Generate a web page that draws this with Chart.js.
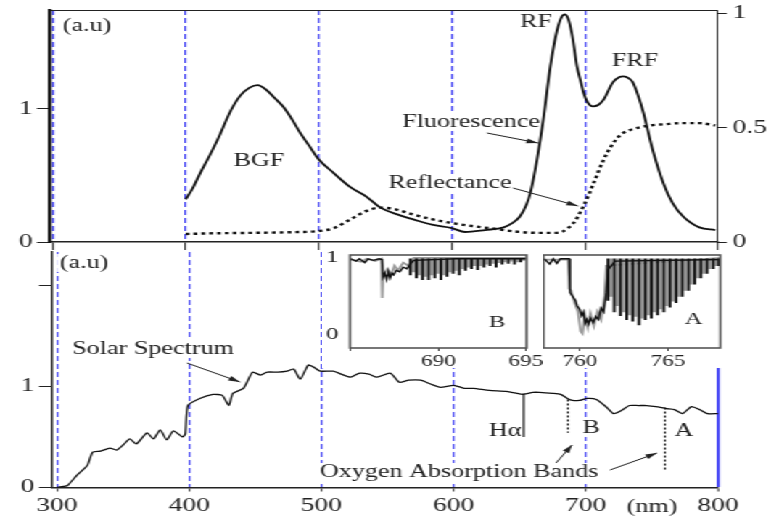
<!DOCTYPE html>
<html>
<head>
<meta charset="utf-8">
<script src="https://cdn.jsdelivr.net/npm/chart.js@4.4.1/dist/chart.umd.min.js"></script>
<style>
  html, body { margin: 0; padding: 0; background: #fff; overflow: hidden; }
  /* the figure is drawn narrow and stretched sideways, like the scanned original */
  #stage { position: absolute; left: 0; top: 0; width: 537px; height: 518px; transform: scaleX(1.450652); transform-origin: 0 0; }
  .box { position: absolute; }
</style>
</head>
<body>
<div id="stage">
  <div class="box" style="left:0;top:0"><canvas id="topChart" width="537" height="250"></canvas></div>
  <div class="box" style="left:0;top:250px"><canvas id="solarChart" width="537" height="268"></canvas></div>
  <div class="box" style="left:221.97px;top:250px"><canvas id="insetB" width="152" height="118"></canvas></div>
  <div class="box" style="left:373.63px;top:250px"><canvas id="insetA" width="126" height="118"></canvas></div>
</div>
<script>
(function () {
  "use strict";

  // Top panel: fluorescence (left axis) and reflectance (right axis)
  const fluoNm = [400, 405, 411, 418, 424, 434, 441, 448, 454, 461, 467, 473, 480, 486, 493, 500, 511, 524, 536, 546,
    561, 571, 585, 600, 610, 625, 639, 645, 651, 656, 659, 664, 669, 674, 679, 683, 685, 688, 691, 694,
    697, 699, 702, 706, 710, 714, 721, 726, 729, 733, 736, 740, 744, 751, 759, 766, 774, 786, 798];
  const fluoVal = [0.32, 0.40, 0.52, 0.65, 0.77, 0.99, 1.10, 1.16, 1.18, 1.14, 1.08, 1.02, 0.92, 0.82, 0.72, 0.62, 0.52, 0.41, 0.34, 0.26,
    0.20, 0.17, 0.13, 0.105, 0.075, 0.09, 0.11, 0.14, 0.19, 0.28, 0.37, 0.62, 0.94, 1.32, 1.59, 1.70, 1.71, 1.66, 1.52, 1.32,
    1.20, 1.12, 1.05, 1.02, 1.03, 1.07, 1.20, 1.24, 1.245, 1.23, 1.20, 1.10, 0.97, 0.69, 0.44, 0.29, 0.19, 0.11, 0.09];
  const reflNm = [400, 420, 450, 480, 500, 511, 524, 536, 546, 556, 571, 585, 600, 615, 629, 651, 665, 676, 683, 687,
    691, 694, 700, 706, 714, 721, 727, 734, 749, 760, 772, 786, 798];
  const reflVal = [0.035, 0.038, 0.040, 0.043, 0.048, 0.06, 0.10, 0.136, 0.15, 0.145, 0.12, 0.10, 0.083, 0.07, 0.06, 0.044, 0.04, 0.04, 0.045, 0.06,
    0.08, 0.105, 0.17, 0.25, 0.36, 0.43, 0.47, 0.49, 0.51, 0.515, 0.52, 0.52, 0.51];

  // Bottom panel: solar spectrum
  const solarNm = [300, 305, 308, 315, 323, 327, 333, 340, 345, 350, 355, 360, 368, 373, 378, 383, 388, 395, 397, 399,
    408, 418, 425, 430, 433, 441, 448, 454, 459, 467, 474, 479, 484, 490, 494, 499, 509, 515, 522, 529,
    536, 542, 552, 559, 566, 575, 583, 590, 600, 608, 615, 627, 640, 648, 652, 660, 665, 675, 681, 686,
    690, 695, 701, 708, 716, 721, 727, 733, 740, 746, 753, 761, 767, 773, 780, 786, 792, 800];
  const solarVal = [0.0, 0.01, 0.02, 0.12, 0.22, 0.35, 0.36, 0.39, 0.37, 0.42, 0.48, 0.43, 0.54, 0.48, 0.57, 0.47, 0.56, 0.50, 0.53, 0.81,
    0.88, 0.92, 0.91, 0.81, 0.93, 0.98, 1.14, 1.11, 1.14, 1.14, 1.15, 1.17, 1.07, 1.21, 1.19, 1.15, 1.15, 1.12, 1.09, 1.13,
    1.12, 1.09, 1.13, 1.04, 1.06, 1.06, 1.02, 0.99, 1.01, 0.98, 0.98, 0.96, 0.95, 0.93, 0.92, 0.94, 0.94, 0.93, 0.92, 0.88,
    0.86, 0.86, 0.88, 0.87, 0.79, 0.73, 0.76, 0.81, 0.81, 0.81, 0.80, 0.78, 0.77, 0.73, 0.80, 0.77, 0.73, 0.73];
  // H-alpha, O2-B, O2-A markers
  const markerNm = [653, 686.5, 759.9];
  const markerTop = [0.93, 0.87, 0.79];
  const markerBottom = [0.50, 0.54, 0.17];

  // Inset B (O2-B band), normalised: band head as lines, rotational lines as bars
  const bHeadNm = [685, 685.3, 685.5, 685.8, 686, 686.3, 686.6, 686.8, 686.85, 686.95, 687.05, 687.15, 687.25, 687.35,
    687.45, 687.6, 687.8, 688, 688.2, 688.4, 688.6, 691, 695];
  const bHeadBlack = [0.99, 0.96, 0.99, 0.94, 0.99, 0.97, 0.99, 0.98, 0.75, 0.80, 0.72, 0.82, 0.74, 0.80,
    0.78, 0.84, 0.82, 0.88, 0.86, 0.92, 0.97, 0.99, 0.99];
  const bHeadGrayNm = [685, 685.6, 685.9, 686.4, 686.75, 686.8, 686.85, 687.1, 687.3, 687.5, 687.7, 688, 688.3, 688.6, 695];
  const bHeadGray = [0.98, 0.95, 0.99, 0.96, 0.99, 0.48, 0.78, 0.86, 0.78, 0.90, 0.84, 0.94, 0.90, 1.00, 1.00];
  const bLineNm = [688.4, 688.75, 689.1, 689.45, 689.8, 690.15, 690.5, 690.85, 691.2, 691.55, 691.9, 692.25,
    692.6, 692.95, 693.3, 693.65, 694.0, 694.35, 694.7];
  const bLineBlack = [0.78, 0.74, 0.72, 0.72, 0.74, 0.72, 0.76, 0.80, 0.78, 0.84, 0.86, 0.85,
    0.88, 0.90, 0.88, 0.92, 0.93, 0.92, 0.95];
  const bLineGray = [0.82, 0.78, 0.76, 0.78, 0.80, 0.78, 0.82, 0.84, 0.86, 0.88, 0.90, 0.90,
    0.92, 0.93, 0.94, 0.95, 0.96, 0.95, 0.97];

  // Inset A (O2-A band)
  const aHeadNm = [758, 758.3, 758.5, 758.7, 758.9, 759.4, 759.45, 759.6, 759.75, 759.85, 760, 760.1, 760.2, 760.3,
    760.4, 760.5, 760.6, 760.75, 760.9, 761.05, 761.2, 761.35, 761.5, 761.6, 762, 768];
  const aHeadBlack = [0.99, 0.92, 0.99, 0.93, 0.99, 0.99, 0.55, 0.50, 0.45, 0.38, 0.33, 0.25, 0.30, 0.15,
    0.20, 0.14, 0.22, 0.16, 0.24, 0.20, 0.35, 0.30, 0.55, 0.85, 0.96, 0.98];
  const aHeadGrayNm = [758, 759.35, 759.4, 759.5, 759.7, 759.9, 760.05, 760.15, 760.3, 760.45, 760.6, 760.8, 761,
    761.2, 761.4, 761.5, 768];
  const aHeadGray = [0.98, 0.98, 0.60, 0.58, 0.42, 0.30, 0.05, 0.02, 0.25, 0.10, 0.28, 0.12, 0.30,
    0.20, 0.50, 0.90, 1.00];
  const aLineNm = [761.6, 761.95, 762.3, 762.65, 763.0, 763.35, 763.7, 764.05, 764.4, 764.75, 765.1, 765.45,
    765.8, 766.15, 766.5, 766.85, 767.2, 767.55, 767.85];
  const aLineBlack = [0.45, 0.30, 0.25, 0.20, 0.18, 0.13, 0.20, 0.22, 0.26, 0.30, 0.36, 0.42,
    0.50, 0.58, 0.66, 0.74, 0.80, 0.86, 0.90];
  const aLineGray = [0.50, 0.38, 0.30, 0.26, 0.24, 0.22, 0.26, 0.30, 0.34, 0.38, 0.44, 0.50,
    0.58, 0.66, 0.74, 0.80, 0.86, 0.90, 0.94];
  const bandLineTop = 0.99;

  const nmTicks = [300, 400, 500, 600, 700, 800];
  const topLeftTicks = [0, 1];
  const topRightTicks = [0, 0.5, 1];
  const solarTicks = [0, 1, 2];
  const insetBTicks = [685, 690, 695];
  const insetATicks = [760, 765];

  const S = 779 / 537; // horizontal stretch of the stage
  const FONT = "'Liberation Serif', 'Times New Roman', serif";
  const INK = "#222";
  const BLUE = "#4b4bf5";

  Chart.defaults.font.family = FONT;
  Chart.defaults.color = INK;

  const pts = (xs, ys, shift) => xs.map((x, i) => ({ x: x + (shift || 0), y: ys[i] }));
  const bars = (xs, lows, shift) => xs.map((x, i) => ({ x: x + (shift || 0), y: [lows[i], bandLineTop] }));
  const setTicks = (list) => (s) => { s.ticks = list.map((v) => ({ value: v })); };
  const fixW = (w) => (s) => { s.width = w; s.paddingTop = 0; s.paddingBottom = 0; };
  const fixH = (h) => (s) => { s.height = h; s.paddingLeft = 0; s.paddingRight = 0; };

  const whiteBg = {
    id: "whiteBg",
    beforeDraw(chart) {
      const { ctx, width, height } = chart;
      ctx.save();
      ctx.fillStyle = "#fff";
      ctx.fillRect(0, 0, width, height);
      ctx.restore();
    },
  };

  const frame = {
    id: "frame",
    afterDraw(chart) {
      const { ctx, chartArea: a } = chart;
      ctx.save();
      ctx.strokeStyle = "#555";
      ctx.lineWidth = 1.6;
      ctx.strokeRect(a.left, a.top, a.right - a.left, a.bottom - a.top);
      ctx.restore();
    },
  };

  // texts and arrows, positions given in page pixels
  function annotations(id, texts, arrows, offsetX, offsetY) {
    return {
      id,
      beforeDatasetsDraw(chart) {
        const ctx = chart.ctx;
        ctx.save();
        ctx.textAlign = "center";
        ctx.textBaseline = "middle";
        texts.forEach((t) => {
          const size = t.size || 18;
          ctx.font = `${size}px ${FONT}`;
          const x = (t.x - offsetX) / S;
          const y = t.y - offsetY;
          const w = ctx.measureText(t.text).width;
          ctx.fillStyle = "#fff";
          ctx.fillRect(x - w / 2 - 2, y - size / 2, w + 4, size);
          ctx.fillStyle = INK;
          ctx.fillText(t.text, x, y);
        });
        ctx.restore();
      },
      afterDatasetsDraw(chart) {
        const ctx = chart.ctx;
        ctx.save();
        ctx.strokeStyle = INK;
        ctx.fillStyle = INK;
        ctx.lineWidth = 1;
        arrows.forEach((a) => {
          const x1 = (a[0] - offsetX) / S, y1 = a[1] - offsetY;
          const x2 = (a[2] - offsetX) / S, y2 = a[3] - offsetY;
          const ang = Math.atan2(y2 - y1, x2 - x1);
          ctx.beginPath();
          ctx.moveTo(x1, y1);
          ctx.lineTo(x2, y2);
          ctx.stroke();
          ctx.beginPath();
          ctx.moveTo(x2, y2);
          ctx.lineTo(x2 - 8 * Math.cos(ang) + 2.5 * Math.sin(ang), y2 - 8 * Math.sin(ang) - 2.5 * Math.cos(ang));
          ctx.lineTo(x2 - 8 * Math.cos(ang) - 2.5 * Math.sin(ang), y2 - 8 * Math.sin(ang) + 2.5 * Math.cos(ang));
          ctx.closePath();
          ctx.fill();
        });
        ctx.restore();
      },
    };
  }

  const topTexts = [
    { text: "(a.u)", x: 87, y: 26 },
    { text: "BGF", x: 259, y: 161 },
    { text: "RF", x: 536, y: 22 },
    { text: "FRF", x: 635, y: 61 },
    { text: "Fluorescence", x: 471, y: 122 },
    { text: "Reflectance", x: 450, y: 183 },
  ];
  const topArrows = [
    [487, 133, 538, 143],
    [513, 188, 578, 206],
  ];
  const solarTexts = [
    { text: "(a.u)", x: 84, y: 263 },
    { text: "Solar Spectrum", x: 153, y: 349 },
    { text: "H\u03b1", x: 505, y: 431 },
    { text: "B", x: 591, y: 428 },
    { text: "A", x: 684, y: 431 },
    { text: "Oxygen Absorption Bands", x: 459, y: 472 },
    { text: "(nm)", x: 652, y: 507 },
  ];
  const solarArrows = [
    [187, 363, 240, 382],
    [556, 463, 572, 445],
    [610, 470, 657, 453],
  ];

  const base = {
    responsive: false,
    animation: false,
    events: [],
    plugins: { legend: { display: false }, tooltip: { enabled: false } },
  };
  const tickFont = { size: 19 };

  // ---------- top panel
  new Chart(document.getElementById("topChart"), {
    type: "line",
    data: {
      datasets: [
        {
          label: "Fluorescence",
          data: pts(fluoNm, fluoVal),
          yAxisID: "y",
          borderColor: "#111",
          borderWidth: 1.8,
          pointRadius: 0,
          cubicInterpolationMode: "monotone",
        },
        {
          label: "Reflectance",
          data: pts(reflNm, reflVal),
          yAxisID: "yR",
          borderColor: "#111",
          borderWidth: 2.4,
          borderDash: [2.6, 2.8],
          pointRadius: 0,
          cubicInterpolationMode: "monotone",
        },
      ],
    },
    options: {
      ...base,
      layout: { padding: { top: 10, left: 0, right: 0, bottom: 0 } },
      scales: {
        x: {
          type: "linear",
          min: 298,
          max: 800,
          afterBuildTicks: setTicks(nmTicks),
          afterFit: fixH(8),
          ticks: { display: false },
          grid: {
            color: (c) => (c.tick && c.tick.value === 800 ? "rgba(0,0,0,0)" : BLUE),
            lineWidth: 1.3,
            drawTicks: true,
            tickLength: 10,
            tickColor: INK,
            tickWidth: 1,
            tickBorderDash: [],
          },
          border: { color: INK, width: 1.5, dash: [5, 3] },
        },
        xTop: {
          type: "linear",
          position: "top",
          afterFit: fixH(0),
          ticks: { display: false },
          grid: { display: false },
          border: { display: true, color: INK, width: 1 },
        },
        y: {
          min: 0,
          max: 1.744,
          afterBuildTicks: setTicks(topLeftTicks),
          afterFit: fixW(50 / S),
          ticks: { font: tickFont, padding: 3 },
          grid: { drawOnChartArea: false, tickLength: 9, tickColor: INK, tickWidth: 1 },
          border: { color: "#111", width: 2.5 },
        },
        yR: {
          position: "right",
          min: 0,
          max: 1.015,
          afterBuildTicks: setTicks(topRightTicks),
          afterFit: fixW(537 - 718 / S),
          ticks: { font: tickFont, padding: 4, callback: (v) => String(v) },
          grid: { drawOnChartArea: false, tickLength: 6, tickColor: INK, tickWidth: 1 },
          border: { color: INK, width: 1 },
        },
      },
    },
    plugins: [whiteBg, annotations("topNotes", topTexts, topArrows, 0, 0)],
  });

  // ---------- bottom panel
  const markerSets = markerNm.map((nm, i) => ({
    label: ["H-alpha", "O2-B", "O2-A"][i],
    data: [{ x: nm, y: markerTop[i] }, { x: nm, y: markerBottom[i] }],
    borderColor: "#111",
    borderWidth: 1.2,
    borderDash: i === 0 ? [] : [2, 2],
    pointRadius: 0,
  }));

  new Chart(document.getElementById("solarChart"), {
    type: "line",
    data: {
      datasets: [
        {
          label: "Solar Spectrum",
          data: pts(solarNm, solarVal),
          borderColor: "#111",
          borderWidth: 1.3,
          pointRadius: 0,
          tension: 0.2,
        },
        ...markerSets,
      ],
    },
    options: {
      ...base,
      layout: { padding: { top: 2, left: 0, right: 537 - 718 / S, bottom: 0 } },
      scales: {
        x: {
          type: "linear",
          min: 296.2,
          max: 800,
          afterBuildTicks: setTicks(nmTicks),
          afterFit: fixH(30.5),
          ticks: { font: tickFont, padding: 3, maxRotation: 0 },
          grid: {
            color: BLUE,
            lineWidth: (c) => (c.tick && c.tick.value === 800 ? 2.2 : 1.3),
            drawTicks: true,
            tickLength: 4,
            tickColor: INK,
            tickWidth: 1,
            tickBorderDash: [],
          },
          border: {
            color: INK,
            width: 1.5,
            dash: (c) => (c.tick && c.tick.value === 800 ? [] : [5, 3]),
          },
        },
        y: {
          min: 0,
          max: 2.327,
          afterBuildTicks: setTicks(solarTicks),
          afterFit: fixW(52 / S),
          ticks: { font: tickFont, padding: 3, callback: (v) => (v === 2 ? "" : String(v)) },
          grid: { drawOnChartArea: false, tickLength: 9, tickColor: INK, tickWidth: 1 },
          border: { color: INK, width: 1.5 },
        },
      },
    },
    plugins: [whiteBg, annotations("solarNotes", solarTexts, solarArrows, 0, 250)],
  });

  // ---------- insets
  function inset(cfg) {
    new Chart(document.getElementById(cfg.id), {
      type: "bar",
      data: {
        datasets: [
          { type: "line", label: "head", data: pts(cfg.headNm, cfg.headBlack), borderColor: "#111", borderWidth: 1.4, pointRadius: 0 },
          { type: "bar", label: "lines", data: bars(cfg.lineNm, cfg.lineBlack), backgroundColor: "#111", barThickness: 1.3, grouped: false },
          { type: "line", label: "head (2)", data: pts(cfg.headGrayNm, cfg.headGray), borderColor: "#9a9a9a", borderWidth: 1.8, pointRadius: 0 },
          { type: "bar", label: "lines (2)", data: bars(cfg.lineNm, cfg.lineGray, 0.17), backgroundColor: "#9a9a9a", barThickness: 1.6, grouped: false },
        ],
      },
      options: {
        ...base,
        layout: { padding: { top: 5, left: 0, right: cfg.padRight, bottom: 0 } },
        scales: {
          x: {
            type: "linear",
            min: cfg.range[0],
            max: cfg.range[1],
            offset: false,
            afterBuildTicks: setTicks(cfg.ticks),
            afterFit: fixH(20),
            ticks: {
              font: { size: 16 },
              padding: 1,
              maxRotation: 0,
              callback: (v) => (v === 685 ? "" : String(v)),
            },
            grid: { offset: false, drawOnChartArea: false, tickLength: 3, tickColor: "#444", tickWidth: 1 },
            border: { display: false },
          },
          y: {
            min: -0.169,
            max: 1.039,
            afterBuildTicks: setTicks([0, 1]),
            afterFit: fixW(cfg.yWidth),
            ticks: { display: cfg.showY, font: { size: 17 }, padding: 8 },
            grid: { drawOnChartArea: false, drawTicks: false },
            border: { display: false },
          },
        },
      },
      plugins: [whiteBg, frame, annotations(cfg.id + "Tag", [cfg.tag], [], cfg.left, 250)],
    });
  }

  inset({
    id: "insetB", left: 322, headNm: bHeadNm, headBlack: bHeadBlack, headGrayNm: bHeadGrayNm, headGray: bHeadGray,
    lineNm: bLineNm, lineBlack: bLineBlack, lineGray: bLineGray, ticks: insetBTicks, range: [684.96, 695.04],
    padRight: (542 - 526) / S, yWidth: 28 / S, showY: true, tag: { text: "B", x: 497, y: 323, size: 17 },
  });
  inset({
    id: "insetA", left: 542, headNm: aHeadNm, headBlack: aHeadBlack, headGrayNm: aHeadGrayNm, headGray: aHeadGray,
    lineNm: aLineNm, lineBlack: aLineBlack, lineGray: aLineGray, ticks: insetATicks, range: [757.95, 767.95],
    padRight: (724 - 719) / S, yWidth: 1 / S, showY: false, tag: { text: "A", x: 693, y: 320, size: 17 },
  });
})();
</script>
</body>
</html>
